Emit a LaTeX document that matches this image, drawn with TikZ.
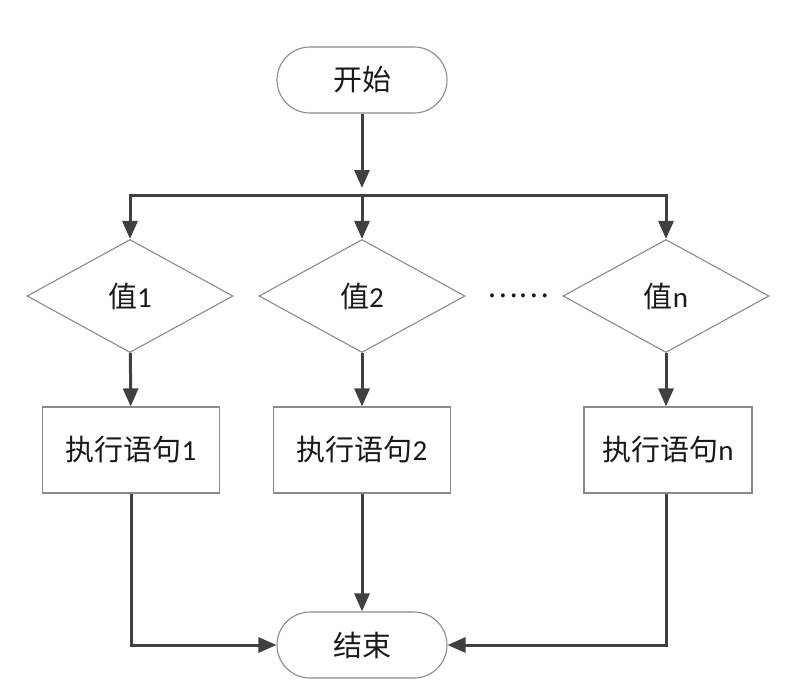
\documentclass[tikz,border=0pt]{standalone}
\usepackage{fontspec}
\setmainfont{Carlito}
\newfontfamily\cjk{Noto Sans CJK SC}
\usetikzlibrary{shapes.geometric, arrows.meta}
\definecolor{conn}{HTML}{404040}
\definecolor{edge}{HTML}{8A8A8A}
\tikzset{
  x=1pt, y=1pt,
  every node/.style={font=\fontsize{29}{33}\selectfont, text=black!90},
  terminal/.style={draw=edge, line width=1.1pt, rectangle, rounded corners=33pt,
    minimum width=170pt, minimum height=66pt, inner sep=0pt},
  decide/.style={draw=edge, line width=1.1pt, diamond, aspect=1.82,
    minimum width=206pt, minimum height=113pt, inner sep=0pt},
  stmt/.style={draw=edge, line width=1.1pt, rectangle,
    minimum width=177pt, minimum height=86pt, inner sep=0pt},
  conline/.style={draw=conn, line width=3pt},
  arr/.style={conline, -{Triangle[length=18pt,width=15pt]}},
}
\begin{document}
\begin{tikzpicture}
\useasboundingbox (0,0) rectangle (792,-681);
\node[terminal] (start) at (362,-80) {\cjk 开始};
\coordinate (j) at (362,-195);
\coordinate (l) at (130,-195);
\coordinate (r) at (666,-195);
\node[decide] (d1) at (130,-296) {{\cjk 值}1};
\node[decide] (d2) at (362,-296) {{\cjk 值}2};
\node[decide] (d3) at (666,-296) {{\cjk 值}n};
\node (dots) at (518,-296) {\cjk ……};
\node[stmt] (s1) at (131,-450) {{\cjk 执行语句}1};
\node[stmt] (s2) at (362,-450) {{\cjk 执行语句}2};
\node[stmt, minimum width=168pt] (s3) at (668,-450) {{\cjk 执行语句}n};
\node[terminal] (end) at (362,-645) {\cjk 结束};
\draw[arr, shorten >=7pt] (start) -- (j);
\draw[conline, line cap=rect] (l) -- (r);
\draw[arr] (l) -- (d1);
\draw[arr] (j) -- (d2);
\draw[arr] (r) -- (d3);
\draw[arr] (d1) -- (s1);
\draw[arr] (d2) -- (s2);
\draw[arr] (d3.south) -- (s3.north -| d3.south);
\draw[arr] (s1) |- (end);
\draw[arr] (s2) -- (end);
\draw[arr] (s3.south -| d3.south) |- (end);
\end{tikzpicture}
\end{document}
